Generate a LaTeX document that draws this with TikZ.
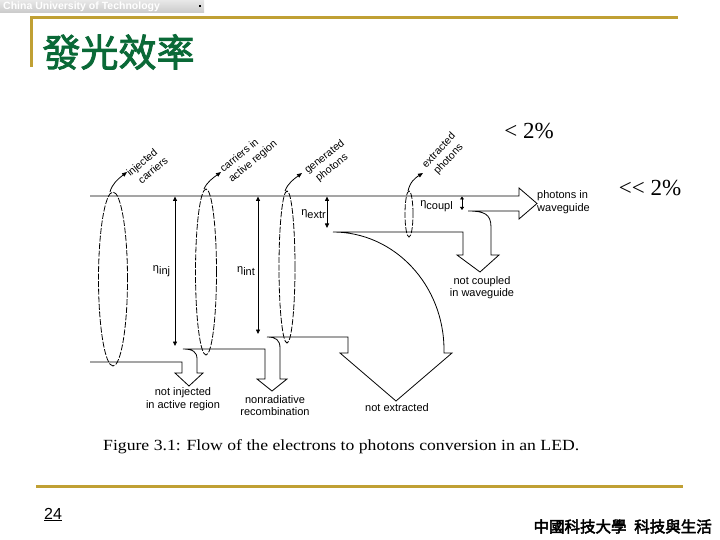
\documentclass[tikz,border=0pt]{standalone}
\usepackage{fontspec}
\setmainfont{Liberation Serif}
\setsansfont{Liberation Sans}
\newfontfamily\cjk[FakeBold=2.2]{Noto Sans CJK TC}
\newfontfamily\cjkb[FakeBold=3]{Noto Sans CJK TC}
\usetikzlibrary{arrows.meta,shapes.geometric}
\definecolor{gold}{RGB}{192,160,52}
\definecolor{titlegreen}{RGB}{10,105,55}
\begin{document}
\begin{tikzpicture}[x=1pt,y=-1pt,
  ln/.style={line width=0.8pt},
  dsh/.style={draw, ellipse, inner sep=0pt, outer sep=0pt, line width=0.8pt, dash pattern=on 6pt off 1.6pt},
  eta/.style={line width=0.8pt, {Triangle[length=4.5pt,width=4pt]}-{Triangle[length=4.5pt,width=4pt]}},
  up/.style={line width=0.8pt, -{Triangle[length=5pt,width=4pt]}},
  rlbl/.style={font=\sffamily\fontsize{10.5}{13}\selectfont, align=left, inner sep=0pt, anchor=west},
  blbl/.style={font=\sffamily\fontsize{11}{12.5}\selectfont, align=center, inner sep=0pt},
  elbl/.style={font=\sffamily\fontsize{11}{12}\selectfont, inner sep=0pt}
]
\useasboundingbox (0,0) rectangle (720,540);
\fill[white] (0,0) rectangle (720,540);

% header bar
\shade[top color=gray!18, bottom color=gray!42] (0,0) rectangle (204,13);
\node[font=\sffamily\bfseries\fontsize{10.5}{11}\selectfont, text=white, anchor=west, inner sep=0pt] (hdr) at (3,6.5) {China University of Technology};
\fill[black] (199,5) rectangle (201,7);

% gold frame lines
\draw[gold, line width=3pt] (30,18) -- (678,18);
\draw[gold, line width=3pt] (31,17) -- (31,67);
\draw[gold, line width=3pt] (36,486) -- (683,486);

% title
\node[font=\cjk\fontsize{38}{40}\selectfont, text=titlegreen, inner sep=0pt] (title) at (118.5,52) {發光效率};

% footer
\node[font=\sffamily\fontsize{16}{18}\selectfont, inner sep=0pt, anchor=west] (pg) at (44,514.5) {\underline{24}};
\node[font=\cjkb\fontsize{15.5}{17}\selectfont, inner sep=0pt, anchor=east] (foot) at (712,526.5) {中國科技大學\hspace{0.5em}科技與生活};

% percentages
\node[font=\fontsize{23}{25}\selectfont, inner sep=0pt] (p1) at (529,131) {<~2\%};
\node[font=\fontsize{23}{25}\selectfont, inner sep=0pt] (p2) at (650,188) {{<}{<}~2\%};

% dashed ellipses
\node[dsh, minimum width=29pt, minimum height=174pt] (e1) at (113,279) {};
\node[dsh, minimum width=21pt, minimum height=166pt] (e2) at (206,272) {};
\node[dsh, minimum width=16pt, minimum height=152pt] (e3) at (287,267) {};
\node[dsh, minimum width=8pt, minimum height=46pt] (e4) at (409,214) {};

% arrows from ellipse tops
\coordinate (t1) at (127,172);
\coordinate (t2) at (221,172);
\coordinate (t3) at (302,173);
\coordinate (t4) at (423,173);
\draw[up] ([xshift=-3pt]e1.north) .. controls (112,184) and (118,179) .. (t1);
\draw[up] ([xshift=-2pt]e2.north) .. controls (207,182) and (213,178) .. (t2);
\draw[up] ([xshift=-2pt]e3.north) .. controls (288,183) and (294,179) .. (t3);
\draw[up] ([xshift=-1pt]e4.north) .. controls (410,182) and (415,178) .. (t4);

% rotated labels
\node[rlbl, rotate=40] (l1) at (132,179) {injected\\\hspace{4pt}carriers};
\node[rlbl, rotate=40] (l2) at (226,176) {carriers in\\active region};
\node[rlbl, rotate=38] (l3) at (310,177) {generated\\\hspace{4pt}photons};
\node[rlbl, rotate=47] (l4) at (429,171) {extracted\\\hspace{3pt}photons};

% flow outline
\coordinate (a0) at (90,196);
\coordinate (wg1) at (519,196);
\coordinate (wgtip) at (537,203.5);
\coordinate (wg2) at (519,211);
\draw[ln] (a0) -- (wg1) -- (519,188) -- (wgtip) -- (519,219) -- (wg2) -- (468,211)
  .. controls (484,211) and (491,214) .. (491,227) -- (491,255) -- (499,255) -- (480,272)
  -- (457,255) -- (463,255) -- (463,232) -- (333,232)
  arc[start angle=90, end angle=0, x radius=111pt, y radius=118pt]
  -- (444,353) -- (452,353) -- (396,401) -- (340,353) -- (348,353) -- (348,337) -- (267,337)
  .. controls (276,337) and (280,340) .. (280,348) -- (280,379) -- (287,379) -- (272,391)
  -- (257,379) -- (265,379) -- (265,349) -- (183,349)
  .. controls (193,349) and (197,352) .. (197,359) -- (197,373) -- (203,373) -- (189,386)
  -- (175,373) -- (182,373) -- (182,362) -- (90,362);

% eta arrows
\draw[eta] (175,196.5) -- (175,346);
\draw[eta] (258,196.5) -- (258,334);
\draw[eta] (327,196.5) -- (327,228);
\draw[line width=0.8pt, {Triangle[length=3pt,width=4pt]}-{Triangle[length=3pt,width=4pt]}] (462,196.5) -- (462,210);

\node[elbl] (ninj) at (161.5,271) {η\raisebox{-3pt}{inj}};
\node[elbl] (nint) at (246,271) {η\raisebox{-3pt}{int}};
\node[elbl] (next) at (313.5,214) {η\raisebox{-3pt}{extr}};
\node[elbl] (ncpl) at (436.5,206) {η\raisebox{-3pt}{coupl}};

% bottom labels
\node[blbl] (b1) at (183,399) {not injected\\in active region};
\node[blbl] (b2) at (275,405.5) {nonradiative\\recombination};
\node[blbl] (b3) at (397,408) {not extracted};
\node[blbl] (b4) at (482,287.5) {not coupled\\in waveguide};
\node[blbl, align=left, anchor=west] (b5) at (537,202) {photons in\\waveguide};

% caption
\node[font=\fontsize{15.5}{17}\selectfont, inner sep=0pt, anchor=west] (cap) at (103,447) {\scalebox{1.14}[1]{Figure 3.1: Flow of the electrons to photons conversion in an LED.}};
\end{tikzpicture}
\end{document}
